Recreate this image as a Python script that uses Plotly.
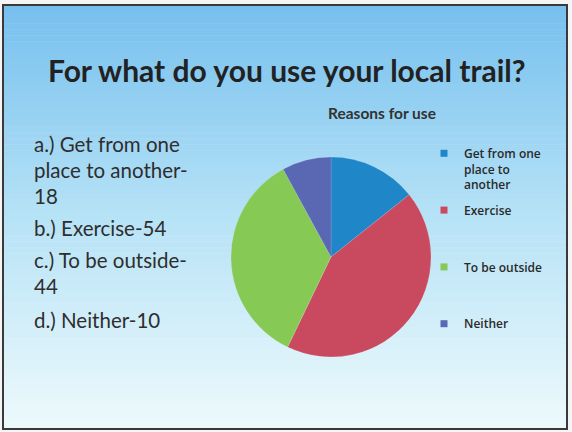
import plotly.graph_objects as go

# ---- data ----
categories = ["Get from one place to another", "Exercise", "To be outside", "Neither"]
values = [18, 54, 44, 10]
legend_labels = ["Get from one<br>place to<br>another", "Exercise", "To be outside", "Neither"]
colors = ["#1f87c8", "#c94a5e", "#86c955", "#5a68b4"]
title_text = "For what do you use your local trail?"
chart_title = "Reasons for use"
left_lines = [
    ("a.) Get from one", 151),
    ("place to another-", 177),
    (f"{values[0]}", 203),
    (f"b.) Exercise-{values[1]}", 235),
    ("c.) To be outside-", 267),
    (f"{values[2]}", 293),
    (f"d.) Neither-{values[3]}", 327),
]

W, H = 572, 432

def py(y):
    return 1 - y / H

def px(x):
    return x / W

fig = go.Figure()

# pie
cx, cy, r = 331, 257, 100
fig.add_trace(go.Pie(
    labels=categories, values=values, sort=False, direction="clockwise", rotation=0,
    marker=dict(colors=colors, line=dict(color="rgba(255,255,255,0.25)", width=0.5)),
    textinfo="none", hoverinfo="label+value", showlegend=False,
    domain=dict(x=[px(cx - r), px(cx + r)], y=[py(cy + r), py(cy - r)]),
))

# legend entries (padded to equal slots)
for i, (lab, col) in enumerate(zip(legend_labels, colors)):
    n = lab.count("<br>") + 1
    pad = "<br> " * (3 - n)
    fig.add_trace(go.Scatter(
        x=[None], y=[None], mode="markers", name=lab + pad,
        marker=dict(symbol="square", size=7, color=col),
        legendgroup=f"g{i}", showlegend=True,
    ))

# background gradient
stops = [(5, (118, 192, 238)), (215, (182, 226, 246)), (429, (238, 250, 252))]
shapes = []
N = 70
y0, y1 = 5, 429
for k in range(N):
    ya = y0 + (y1 - y0) * k / N
    yb = y0 + (y1 - y0) * (k + 1) / N
    ym = (ya + yb) / 2
    if ym <= stops[1][0]:
        t = (ym - stops[0][0]) / (stops[1][0] - stops[0][0])
        c0, c1 = stops[0][1], stops[1][1]
    else:
        t = (ym - stops[1][0]) / (stops[2][0] - stops[1][0])
        c0, c1 = stops[1][1], stops[2][1]
    c = tuple(int(round(c0[j] + (c1[j] - c0[j]) * t)) for j in range(3))
    shapes.append(dict(type="rect", xref="paper", yref="paper", x0=px(3), x1=px(567),
                       y0=py(yb + 0.5), y1=py(ya), fillcolor=f"rgb{c}",
                       line=dict(width=0), layer="below"))
shapes.append(dict(type="rect", xref="paper", yref="paper", x0=px(3), x1=px(567),
                   y0=py(429), y1=py(5), line=dict(color="#3a3a3a", width=2),
                   fillcolor="rgba(0,0,0,0)", layer="above"))

annotations = [
    dict(text=f"<b>{title_text}</b>", x=px(287), y=py(70), xref="paper", yref="paper",
         xanchor="center", yanchor="middle", showarrow=False,
         font=dict(family="Lato", size=30, color="#222222")),
    dict(text=f"<b>{chart_title}</b>", x=px(382), y=py(113), xref="paper", yref="paper",
         xanchor="center", yanchor="middle", showarrow=False,
         font=dict(family="Lato", size=15.5, color="#333333")),
]
fs = 20.5
for txt, base in left_lines:
    annotations.append(dict(text=txt, x=px(32), y=py(base - 0.33 * fs), xref="paper", yref="paper",
                            xanchor="left", yanchor="middle", showarrow=False,
                            font=dict(family="Lato", size=fs, color="#2e2e2e")))

fig.update_layout(
    width=W, height=H, margin=dict(l=0, r=0, t=0, b=0),
    paper_bgcolor="#f5f5f5", plot_bgcolor="rgba(0,0,0,0)",
    xaxis=dict(visible=False), yaxis=dict(visible=False),
    shapes=shapes, annotations=annotations,
    showlegend=True,
    legend=dict(x=px(424), y=py(139), xanchor="left", yanchor="top",
                bgcolor="rgba(0,0,0,0)", borderwidth=0, valign="top",
                traceorder="grouped", tracegroupgap=7, itemsizing="trace",
                font=dict(family="Open Sans", size=12, color="#2a2a2a", weight=600)),
)

fig.write_html("out.html", post_script="document.body.style.margin='0';",
               config={"displayModeBar": False})
